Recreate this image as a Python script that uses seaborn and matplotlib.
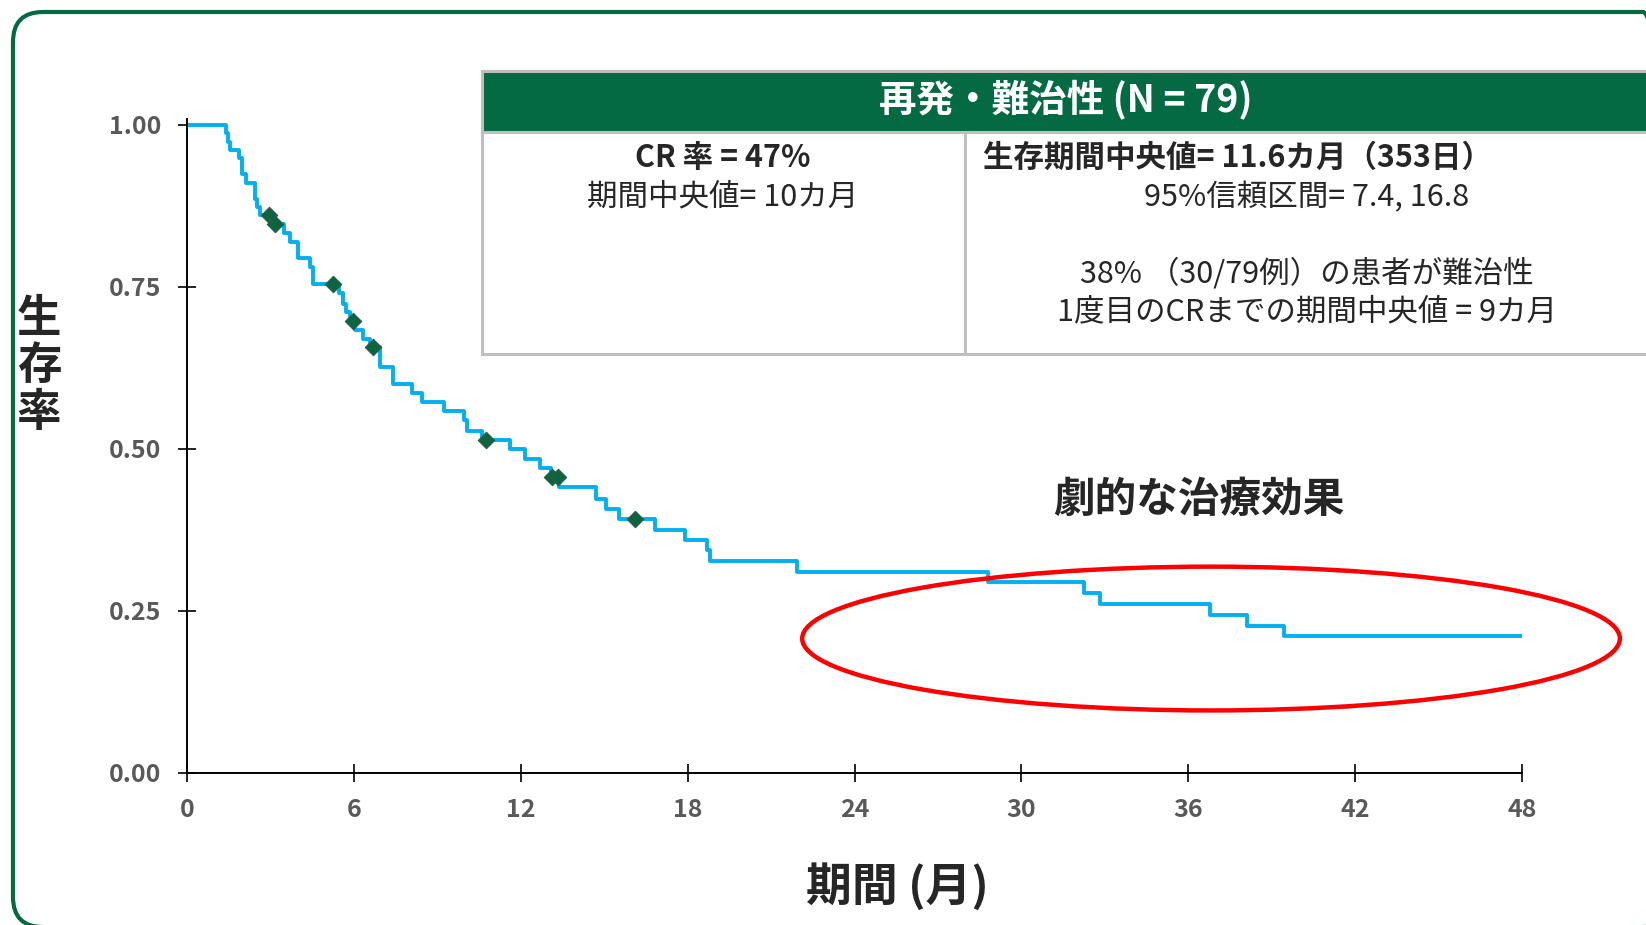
import numpy as np
import pandas as pd
import matplotlib
matplotlib.use("Agg")
import matplotlib.pyplot as plt
import matplotlib.transforms as mtransforms
from matplotlib.patches import Ellipse, FancyBboxPatch, Rectangle
from matplotlib.lines import Line2D
import seaborn as sns

# Kaplan-Meier step curve (month of each step, survival after it)
step_months = [0, 1.41, 1.46, 1.53, 1.86, 1.98, 2.13, 2.46, 2.52, 2.61,
               3.06, 3.48, 3.69, 3.99, 4.41, 4.53, 5.45, 5.61, 5.72, 5.85,
               6.05, 6.33, 6.59, 6.95, 7.41, 8.09, 8.45, 9.23, 9.97, 10.07,
               10.61, 11.63, 12.17, 12.71, 13.07, 13.37, 14.72, 15.05, 15.53, 16.82,
               17.92, 18.68, 18.82, 21.93, 28.80, 32.25, 32.84, 36.78, 38.13, 39.45,
               48.0]
step_surv = [1.0, 0.987, 0.974, 0.962, 0.949, 0.924, 0.911, 0.886, 0.874, 0.861,
             0.847, 0.833, 0.820, 0.794, 0.781, 0.755, 0.740, 0.724, 0.711, 0.698,
             0.684, 0.670, 0.657, 0.627, 0.600, 0.586, 0.572, 0.558, 0.544, 0.528,
             0.513, 0.500, 0.485, 0.471, 0.456, 0.441, 0.423, 0.407, 0.391, 0.375,
             0.359, 0.343, 0.326, 0.309, 0.294, 0.278, 0.260, 0.243, 0.227, 0.211,
             0.211]

# censored patients (diamonds)
censor_months = [2.96, 3.18, 5.24, 5.96, 6.68, 10.76, 13.13, 13.35, 16.09]
censor_surv = [0.861, 0.847, 0.755, 0.698, 0.657, 0.513, 0.456, 0.456, 0.391]

x_ticks = [0, 6, 12, 18, 24, 30, 36, 42, 48]
y_ticks = [0.0, 0.25, 0.50, 0.75, 1.00]

header_text = "再発・難治性 (N = 79)"
left_cell = ["CR 率 = 47%", "期間中央値= 10カ月"]
right_cell = ["生存期間中央値= 11.6カ月（353日）", "95%信頼区間= 7.4, 16.8",
              "38% （30/79例）の患者が難治性", "1度目のCRまでの期間中央値 = 9カ月"]
callout_text = "劇的な治療効果"

GREEN = "#046A44"
BLUE = "#00B0F0"
GRAY_TXT = "#595959"
W, H = 1646, 925

sns.set_style("white")
plt.rcParams["font.family"] = ["Noto Sans CJK JP", "DejaVu Sans"]


def fx(x):
    return x / W


def fy(y):
    return 1 - y / H


km = pd.DataFrame({"month": step_months, "surv": step_surv})
cens = pd.DataFrame({"month": censor_months, "surv": censor_surv})

fig = plt.figure(figsize=(W / 100, H / 100), dpi=100)
ax_top, ax_bot = 118.5, 772.6
ax = fig.add_axes([fx(187), fy(ax_bot), (1522 - 187) / W, (ax_bot - ax_top) / H])

sns.lineplot(data=km, x="month", y="surv", drawstyle="steps-post", color=BLUE,
             linewidth=2.8, estimator=None, sort=False, ax=ax)
sns.scatterplot(data=cens, x="month", y="surv", marker="D", s=70, color="#0B6640",
                edgecolor="#2F5A48", linewidth=0.8, zorder=4, ax=ax)

tick_font = dict(fontweight="bold", fontsize=18, color=GRAY_TXT)
ax.set_xlim(0, 48)
ax.set_ylim(0, 1.01)
ax.set_xticks(x_ticks)
ax.set_xticklabels([str(t) for t in x_ticks], **tick_font)
ax.set_yticks(y_ticks)
ax.set_yticklabels([f"{t:.2f}" for t in y_ticks], **tick_font)
ax.set_xlabel("")
ax.set_ylabel("")
for s in ["top", "right"]:
    ax.spines[s].set_visible(False)
for s in ["left", "bottom"]:
    ax.spines[s].set_color("black")
    ax.spines[s].set_linewidth(1.4)
ax.tick_params(axis="both", bottom=True, left=True, direction="inout", length=13,
               width=1.2, color="black", pad=12)

# red ellipse around the plateau
ax.add_patch(Ellipse((36.82, 0.207), width=29.4, height=0.222, fill=False,
                     edgecolor="#FF0000", linewidth=3.2, clip_on=False, zorder=5))

# axis titles
fig.text(fx(39), fy(366), "生\n存\n率", ha="center", va="center", fontsize=32,
         fontweight="bold", linespacing=1.02)
fig.text(fx(897), fy(887), "期間 (月)", ha="center", va="center", fontsize=33,
         fontweight="bold")
fig.text(fx(1199), fy(500), callout_text, ha="center", va="center", fontsize=30,
         fontweight="bold")

# summary table in the upper right
px = mtransforms.IdentityTransform()
fig.add_artist(Rectangle((482, H - 354), 1200, 354 - 71, transform=px,
                         facecolor="white", edgecolor="#BFBFBF", linewidth=2.2))
fig.add_artist(Rectangle((482, H - 132), 1200, 132 - 71, transform=px,
                         facecolor=GREEN, edgecolor="#BFBFBF", linewidth=2.2))
fig.add_artist(Line2D([965, 965], [H - 132, H - 354], transform=px,
                      color="#BFBFBF", linewidth=2.2))

fig.text(fx(1066), fy(99), header_text, ha="center", va="center", fontsize=27,
         fontweight="bold", color="white")
fig.text(fx(723), fy(158), left_cell[0], ha="center", va="center", fontsize=22,
         fontweight="bold")
fig.text(fx(723), fy(197), left_cell[1], ha="center", va="center", fontsize=22)
fig.text(fx(983), fy(158), right_cell[0], ha="left", va="center", fontsize=22,
         fontweight="bold")
fig.text(fx(1307), fy(198), right_cell[1], ha="center", va="center", fontsize=22)
fig.text(fx(1307), fy(274), right_cell[2], ha="center", va="center", fontsize=22)
fig.text(fx(1307), fy(312), right_cell[3], ha="center", va="center", fontsize=22)

# rounded green frame (right and bottom edges run just past the picture)
fig.add_artist(FancyBboxPatch((13, -2), 1660, H - 10,
                              boxstyle="round,pad=0,rounding_size=30",
                              transform=px, facecolor="none", edgecolor=GREEN,
                              linewidth=3.0))

fig.savefig("out.png", dpi=100)
plt.close(fig)
